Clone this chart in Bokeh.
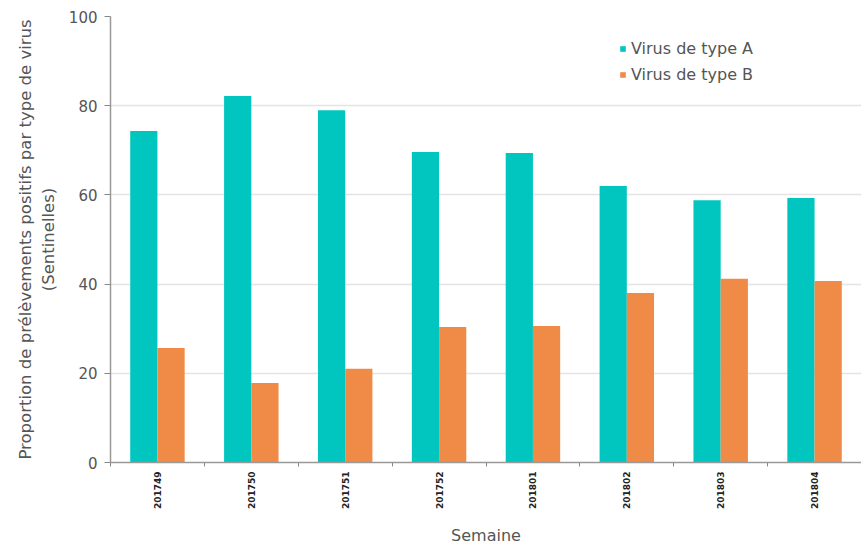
from bokeh.plotting import figure
from bokeh.models import ColumnDataSource, FixedTicker, Range1d, Legend, LegendItem
from bokeh.embed import file_html
from bokeh.resources import INLINE
from math import pi

# Weekly share of positive sentinel samples by virus type (%)
weeks = ["201749", "201750", "201751", "201752", "201801", "201802", "201803", "201804"]
virus_a = [74.3, 82.2, 79.0, 69.6, 69.4, 62.0, 58.8, 59.3]
virus_b = [25.7, 17.8, 21.0, 30.4, 30.6, 38.0, 41.2, 40.7]

COLOR_A = "#00C6BF"
COLOR_B = "#EF8B47"
FONT = "DejaVu Sans"

n = len(weeks)
centers = [i + 0.5 for i in range(n)]
bar_w = 0.29

src = ColumnDataSource(dict(
    xa=[c - bar_w / 2 for c in centers],
    xb=[c + bar_w / 2 for c in centers],
    a=virus_a,
    b=virus_b,
))

p = figure(width=861, height=548, output_backend="svg", toolbar_location=None,
           x_range=Range1d(0, n), y_range=Range1d(0, 100))
p.min_border_left = 110
p.min_border_top = 16
p.min_border_right = 0
p.min_border_bottom = 86
p.outline_line_color = None
p.background_fill_color = "white"
p.border_fill_color = "white"

ra = p.vbar(x="xa", top="a", width=bar_w, bottom=0, source=src,
            fill_color=COLOR_A, line_color=None)
rb = p.vbar(x="xb", top="b", width=bar_w, bottom=0, source=src,
            fill_color=COLOR_B, line_color=None)

# x axis: labels at group centres, small ticks on group boundaries
xax = p.xaxis[0]
xax.ticker = FixedTicker(ticks=centers, minor_ticks=list(range(n + 1)))
xax.major_label_overrides = {c: w for c, w in zip(centers, weeks)}
xax.major_label_orientation = pi / 2
xax.major_label_text_font = FONT
xax.major_label_text_font_style = "bold"
xax.major_label_text_font_size = "9px"
xax.major_label_text_color = "#222222"
xax.major_label_standoff = 5
xax.major_tick_out = 0
xax.major_tick_in = 0
xax.minor_tick_out = 4
xax.minor_tick_in = 0
xax.minor_tick_line_color = "#888888"
xax.axis_line_color = "#999999"
xax.axis_line_width = 1.5
xax.axis_label = "Semaine"
xax.axis_label_text_font = FONT
xax.axis_label_text_font_style = "normal"
xax.axis_label_text_font_size = "16px"
xax.axis_label_text_color = "#555555"
xax.axis_label_standoff = 14

yax = p.yaxis[0]
yax.ticker = FixedTicker(ticks=[0, 20, 40, 60, 80, 100])
yax.major_label_text_font = FONT
yax.major_label_text_font_size = "15px"
yax.major_label_text_color = "#555555"
yax.major_tick_out = 6
yax.major_tick_in = 0
yax.minor_tick_line_color = None
yax.major_tick_line_color = "#888888"
yax.axis_line_color = "#999999"
yax.axis_line_width = 1.5
yax.major_label_standoff = 7
yax.axis_label = "Proportion de prélèvements positifs par type de virus\n(Sentinelles)"
yax.axis_label_text_font = FONT
yax.axis_label_text_font_style = "normal"
yax.axis_label_text_font_size = "16.5px"
yax.axis_label_text_color = "#555555"
yax.axis_label_standoff = 8

p.xgrid.grid_line_color = None
p.ygrid.grid_line_color = "#e4e4e4"
p.ygrid.grid_line_width = 1.5

legend = Legend(items=[LegendItem(label="Virus de type A", renderers=[ra]),
                       LegendItem(label="Virus de type B", renderers=[rb])],
                location=(509, 378))
legend.border_line_color = None
legend.background_fill_alpha = 0
legend.padding = 0
legend.margin = 0
legend.glyph_width = 7
legend.glyph_height = 7
legend.label_height = 20
legend.spacing = 6
legend.label_standoff = 5
legend.label_text_font = FONT
legend.label_text_font_size = "16px"
legend.label_text_color = "#555555"
p.add_layout(legend, "center")

open("out.html", "w").write(file_html(p, INLINE))
